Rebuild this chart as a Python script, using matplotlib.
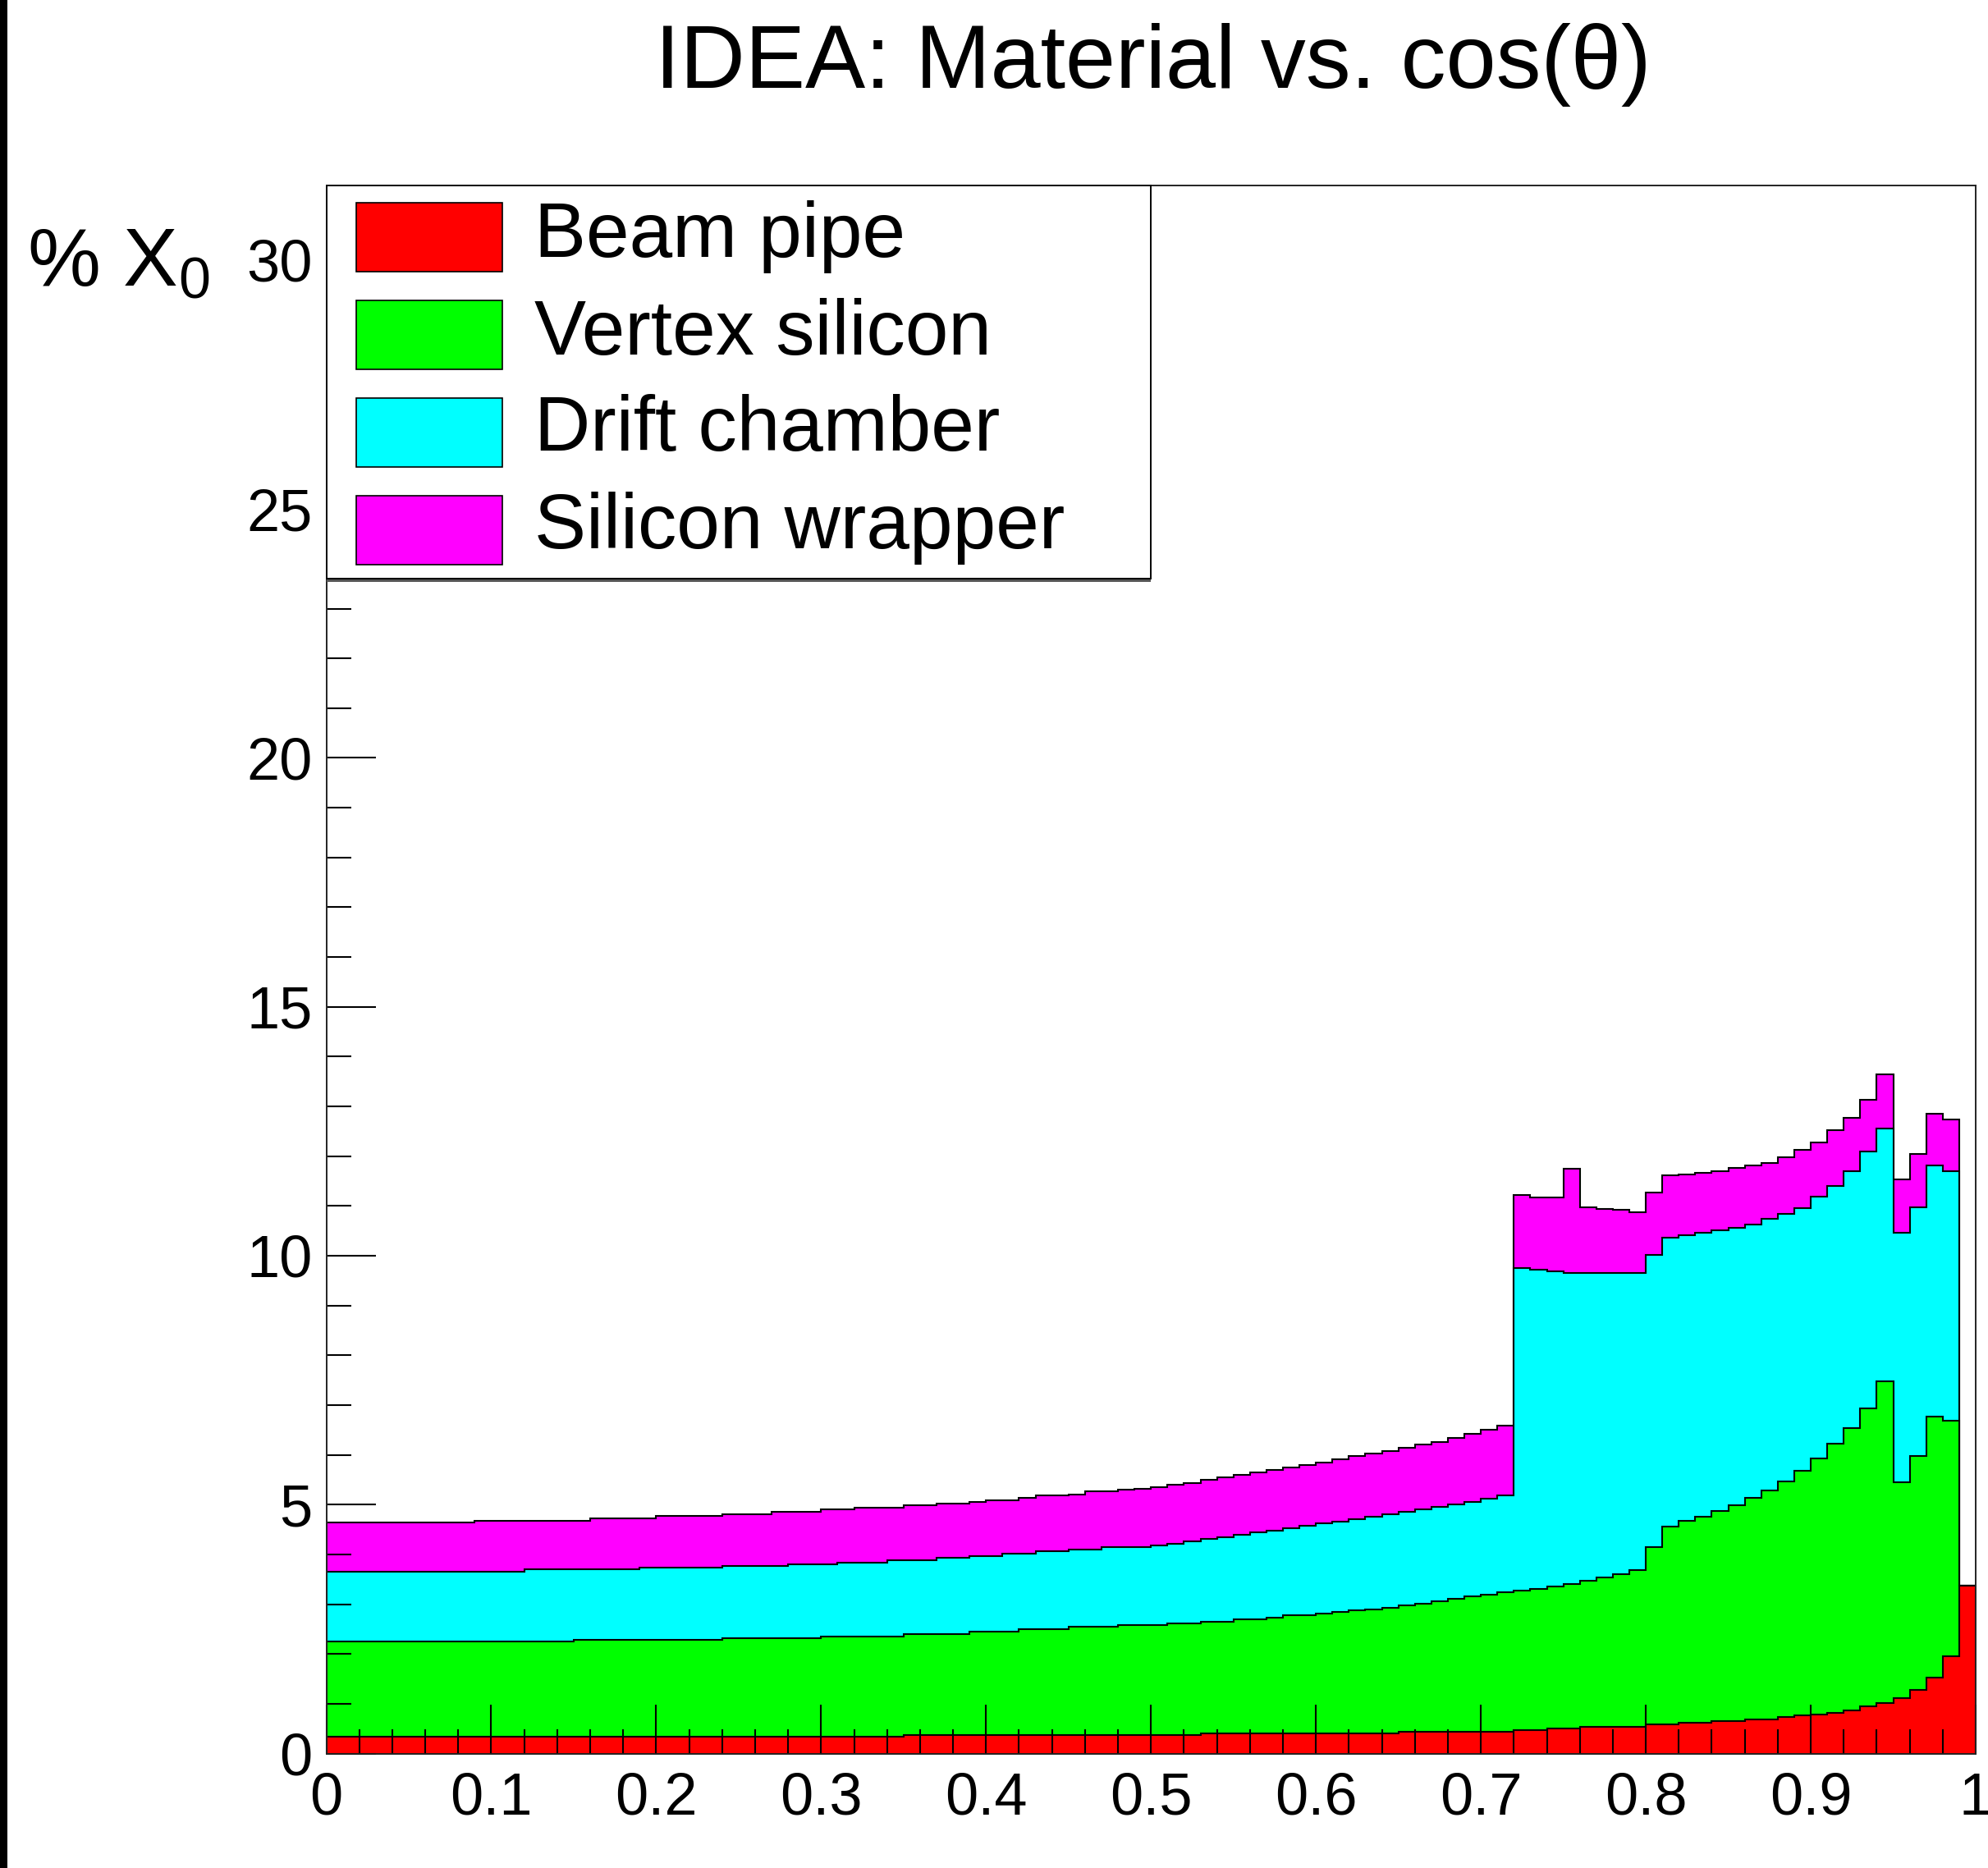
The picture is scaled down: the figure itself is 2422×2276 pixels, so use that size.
import numpy as np
import matplotlib
matplotlib.use("Agg")
import matplotlib.pyplot as plt
from matplotlib.patches import Rectangle
from matplotlib.ticker import FixedLocator, FixedFormatter, MultipleLocator

plt.rcParams['font.family'] = ['Liberation Sans', 'DejaVu Sans']
plt.rcParams['mathtext.fontset'] = 'custom'
plt.rcParams['mathtext.rm'] = 'Liberation Sans'
plt.rcParams['mathtext.it'] = 'Liberation Sans:italic'

# 100 bins in cos(theta), width 0.01
bin_edges = np.linspace(0.0, 1.0, 101)

# Radiation length (% X0) per bin for each sub-detector
beam_pipe = [
    0.33, 0.33, 0.33, 0.33, 0.33, 0.33, 0.33, 0.33, 0.33, 0.33,
    0.33, 0.33, 0.33, 0.33, 0.33, 0.33, 0.33, 0.33, 0.33, 0.33,
    0.33, 0.33, 0.33, 0.33, 0.33, 0.33, 0.33, 0.33, 0.33, 0.33,
    0.33, 0.33, 0.33, 0.33, 0.33, 0.37, 0.37, 0.37, 0.37, 0.37,
    0.37, 0.37, 0.37, 0.37, 0.37, 0.37, 0.37, 0.37, 0.37, 0.37,
    0.37, 0.37, 0.37, 0.40, 0.40, 0.40, 0.40, 0.40, 0.40, 0.40,
    0.40, 0.40, 0.40, 0.40, 0.40, 0.44, 0.44, 0.44, 0.44, 0.44,
    0.44, 0.44, 0.47, 0.47, 0.50, 0.50, 0.54, 0.54, 0.54, 0.54,
    0.59, 0.59, 0.62, 0.62, 0.65, 0.65, 0.69, 0.69, 0.73, 0.76,
    0.79, 0.82, 0.87, 0.95, 1.02, 1.12, 1.28, 1.53, 1.96, 3.38,
]
vertex_silicon = [
    1.92, 1.92, 1.92, 1.92, 1.92, 1.92, 1.92, 1.92, 1.92, 1.92,
    1.92, 1.92, 1.92, 1.92, 1.92, 1.96, 1.96, 1.96, 1.96, 1.96,
    1.96, 1.96, 1.96, 1.96, 1.99, 1.99, 1.99, 1.99, 1.99, 1.99,
    2.02, 2.02, 2.02, 2.02, 2.02, 2.03, 2.03, 2.03, 2.03, 2.08,
    2.08, 2.08, 2.12, 2.12, 2.12, 2.17, 2.17, 2.17, 2.21, 2.21,
    2.21, 2.24, 2.24, 2.25, 2.25, 2.29, 2.29, 2.33, 2.37, 2.37,
    2.41, 2.44, 2.47, 2.50, 2.53, 2.53, 2.57, 2.62, 2.66, 2.71,
    2.75, 2.80, 2.80, 2.84, 2.86, 2.91, 2.93, 2.99, 3.06, 3.15,
    3.55, 3.97, 4.05, 4.14, 4.23, 4.34, 4.44, 4.59, 4.74, 4.92,
    5.13, 5.40, 5.66, 5.99, 6.46, 4.33, 4.69, 5.24, 4.72, 0.00,
]
drift_chamber = [
    1.41, 1.41, 1.41, 1.41, 1.41, 1.41, 1.41, 1.41, 1.41, 1.41,
    1.41, 1.41, 1.45, 1.45, 1.45, 1.41, 1.41, 1.41, 1.41, 1.45,
    1.45, 1.45, 1.45, 1.45, 1.44, 1.44, 1.44, 1.44, 1.48, 1.48,
    1.45, 1.49, 1.49, 1.49, 1.54, 1.49, 1.49, 1.53, 1.53, 1.52,
    1.52, 1.57, 1.53, 1.57, 1.57, 1.56, 1.56, 1.60, 1.56, 1.56,
    1.60, 1.61, 1.65, 1.66, 1.70, 1.70, 1.75, 1.75, 1.75, 1.80,
    1.81, 1.82, 1.84, 1.86, 1.88, 1.89, 1.90, 1.90, 1.91, 1.91,
    1.93, 1.95, 6.48, 6.41, 6.33, 6.25, 6.19, 6.13, 6.06, 5.97,
    5.88, 5.81, 5.75, 5.70, 5.63, 5.57, 5.49, 5.46, 5.37, 5.28,
    5.26, 5.18, 5.17, 5.15, 5.07, 5.01, 5.01, 5.05, 5.02, 0.00,
]
silicon_wrapper = [
    0.98, 0.98, 0.98, 0.98, 0.98, 0.98, 0.98, 0.98, 0.98, 1.02,
    1.02, 1.02, 0.98, 0.98, 0.98, 0.98, 1.03, 1.03, 1.03, 0.99,
    1.03, 1.03, 1.03, 1.03, 1.04, 1.04, 1.04, 1.10, 1.06, 1.06,
    1.10, 1.06, 1.10, 1.10, 1.05, 1.09, 1.09, 1.09, 1.09, 1.09,
    1.12, 1.07, 1.11, 1.12, 1.12, 1.11, 1.16, 1.12, 1.16, 1.17,
    1.17, 1.18, 1.18, 1.19, 1.20, 1.20, 1.20, 1.21, 1.22, 1.23,
    1.23, 1.25, 1.26, 1.26, 1.27, 1.28, 1.29, 1.30, 1.33, 1.36,
    1.38, 1.39, 1.47, 1.45, 1.48, 2.08, 1.32, 1.28, 1.26, 1.22,
    1.25, 1.25, 1.22, 1.21, 1.19, 1.20, 1.20, 1.13, 1.14, 1.16,
    1.10, 1.13, 1.07, 1.05, 1.10, 1.08, 1.07, 1.04, 1.04, 0.00,
]

labels = ["Beam pipe", "Vertex silicon", "Drift chamber", "Silicon wrapper"]
colors = ["#ff0000", "#00ff00", "#00ffff", "#ff00ff"]

x_ticks = [0.0, 0.1, 0.2, 0.3, 0.4, 0.5, 0.6, 0.7, 0.8, 0.9, 1.0]
x_tick_labels = ["0", "0.1", "0.2", "0.3", "0.4", "0.5", "0.6", "0.7", "0.8", "0.9", "1"]
y_ticks = [0, 5, 10, 15, 20, 25, 30]
y_tick_labels = ["0", "5", "10", "15", "20", "25", "30"]

W, H = 2422, 2276


def fx(px):
    return px / W


def fy(py):
    return 1.0 - py / H


fig = plt.figure(figsize=(W / 100, H / 100), dpi=100)
fig.patch.set_facecolor("white")

# dark strip down the left edge of the canvas
fig.add_artist(Rectangle((0, 0), fx(9), 1, transform=fig.transFigure,
                         facecolor="black", edgecolor="none", zorder=10))

ax = fig.add_axes([fx(397.5), fy(2136.5), fx(2407) - fx(397.5), fy(226) - fy(2136.5)])

# stacked histogram: draw cumulative totals from the top layer down
layers = np.array([beam_pipe, vertex_silicon, drift_chamber, silicon_wrapper])
cumulative = np.cumsum(layers, axis=0)
for k in reversed(range(len(layers))):
    ax.stairs(cumulative[k], bin_edges, baseline=0, fill=True,
              facecolor=colors[k], edgecolor="black", linewidth=1.5)

ax.set_xlim(0, 1)
ax.set_ylim(0, 31.5)

ax.xaxis.set_major_locator(FixedLocator(x_ticks))
ax.xaxis.set_major_formatter(FixedFormatter(x_tick_labels))
ax.xaxis.set_minor_locator(MultipleLocator(0.02))
ax.yaxis.set_major_locator(FixedLocator(y_ticks))
ax.yaxis.set_major_formatter(FixedFormatter(y_tick_labels))
ax.yaxis.set_minor_locator(MultipleLocator(1))

ax.tick_params(which="both", direction="in", top=False, right=False,
               width=1.5, color="black")
ax.tick_params(which="major", length=43)
ax.tick_params(which="minor", length=21.5)
ax.tick_params(axis="x", which="major", labelsize=52, pad=16)
ax.tick_params(axis="y", which="major", labelsize=52, pad=12)

for sp in ax.spines.values():
    sp.set_linewidth(1.4)
    sp.set_color("#222222")

# legend box in the upper-left corner of the frame
ax.add_patch(Rectangle((fx(398), fy(709)), fx(1402) - fx(398), 5 / H,
                       transform=fig.transFigure, facecolor="#555555",
                       edgecolor="none", zorder=5, clip_on=False))
ax.add_patch(Rectangle((fx(398), fy(705)), fx(1402) - fx(398), fy(226) - fy(705),
                       transform=fig.transFigure, facecolor="white",
                       edgecolor="black", linewidth=1.4, zorder=6, clip_on=False))
box_tops = [247, 366, 485, 604]
text_baselines = [313, 432, 549, 668]
for i in range(4):
    ax.add_patch(Rectangle((fx(434), fy(box_tops[i] + 84)), fx(612) - fx(434), 84 / H,
                           transform=fig.transFigure, facecolor=colors[i],
                           edgecolor="black", linewidth=1.2, zorder=7, clip_on=False))
    fig.text(fx(651), fy(text_baselines[i]), labels[i], fontsize=68,
             ha="left", va="baseline", zorder=8)

fig.text(fx(1405), fy(107), "IDEA: Material vs. cos(θ)", fontsize=79,
         ha="center", va="baseline")
fig.text(fx(33), fy(349), r"% X$_{\mathrm{0}}$", fontsize=72,
         ha="left", va="baseline")

fig.savefig("out.png", dpi=100)
